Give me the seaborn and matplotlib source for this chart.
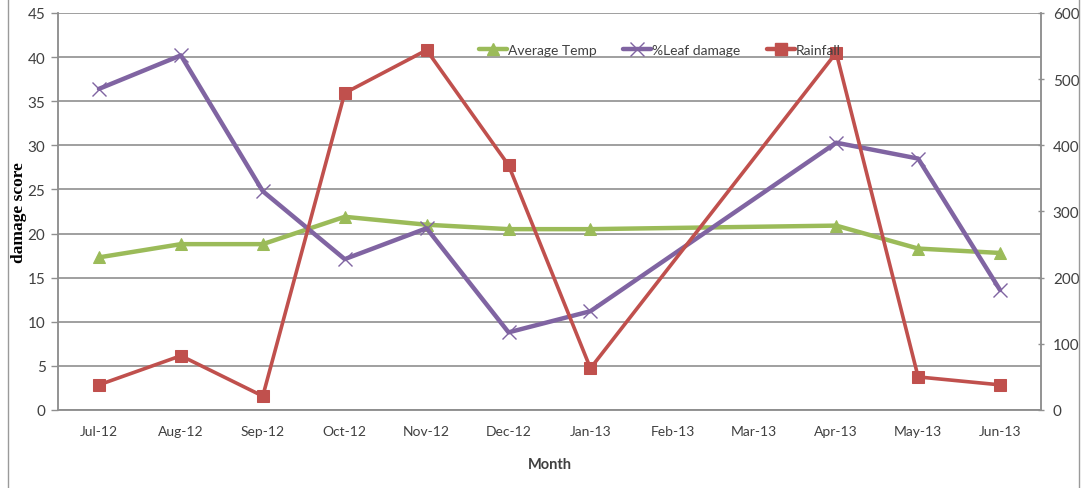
import numpy as np
import pandas as pd
import seaborn as sns
import matplotlib
matplotlib.use("Agg")
import matplotlib.pyplot as plt
from matplotlib.lines import Line2D

months = ["Jul-12", "Aug-12", "Sep-12", "Oct-12", "Nov-12", "Dec-12",
          "Jan-13", "Feb-13", "Mar-13", "Apr-13", "May-13", "Jun-13"]
avg_temp = [17.3, 18.8, 18.8, 21.9, 21.0, 20.5, 20.5, np.nan, np.nan, 20.9, 18.3, 17.8]
leaf_damage = [36.4, 40.2, 24.8, 17.1, 20.6, 8.8, 11.2, np.nan, np.nan, 30.3, 28.5, 13.6]
rainfall = [38, 82, 21, 479, 544, 370, 63, np.nan, np.nan, 540, 50, 38]

left_ticks = list(range(0, 46, 5))
right_ticks = list(range(0, 601, 100))

sns.set_theme(style="white")
plt.rcParams["font.family"] = ["Lato", "DejaVu Sans"]

df = pd.DataFrame({"pos": np.arange(len(months)), "month": months,
                   "Average Temp": avg_temp, "%Leaf damage": leaf_damage,
                   "Rainfall": rainfall})

GREEN = "#9BBB59"
PURPLE = "#8064A2"
RED = "#C0504D"
GRID = "#8f8f8f"
TXT = "#404040"

fig = plt.figure(figsize=(10.86, 4.89), dpi=100)
ax = fig.add_axes([58 / 1086, 1 - 411 / 489, (1041 - 58) / 1086, (411 - 14) / 489])
ax2 = ax.twinx()

# Missing months are skipped so the line joins the neighbouring points
t = df.dropna(subset=["Average Temp"])
sns.lineplot(data=t, x="pos", y="Average Temp", ax=ax, color=GREEN, lw=3.2,
             marker="^", markersize=9, markeredgecolor=GREEN, label="Average Temp",
             legend=False, zorder=3)
l = df.dropna(subset=["%Leaf damage"])
sns.lineplot(data=l, x="pos", y="%Leaf damage", ax=ax, color=PURPLE, lw=3.2,
             marker="x", markersize=10, markeredgewidth=1.0, markeredgecolor=PURPLE,
             label="%Leaf damage", legend=False, zorder=4)
r = df.dropna(subset=["Rainfall"])
sns.lineplot(data=r, x="pos", y="Rainfall", ax=ax2, color=RED, lw=2.6,
             marker="s", markersize=8.5, markeredgecolor=RED, label="Rainfall",
             legend=False, zorder=5)

ax.set_xlim(-0.5, len(months) - 0.5)
ax.set_ylim(0, 45)
ax.set_yticks(left_ticks)
ax.set_xticks(np.arange(len(months)))
ax.set_xticklabels(months)
ax.set_xticks(np.arange(-0.5, len(months), 1.0), minor=True)
ax.tick_params(axis="x", which="major", length=0, pad=11, labelsize=10, labelcolor=TXT)
ax.tick_params(axis="x", which="minor", length=5, width=1, color=GRID, direction="out")
ax.tick_params(axis="y", length=5, width=1, color=GRID, direction="out", labelsize=11,
               labelcolor=TXT, pad=4)
ax.yaxis.grid(True, color=GRID, lw=1.2)
ax.xaxis.grid(False)
ax.set_axisbelow(True)

ax2.set_ylim(0, 600)
ax2.set_yticks(right_ticks)
ax2.tick_params(axis="y", length=5, width=1, color=GRID, direction="inout", labelsize=11,
                labelcolor=TXT, pad=6)
ax2.grid(False)
ax2.set_ylabel("")

for a in (ax, ax2):
    a.spines["top"].set_visible(False)
    for side in ("left", "right", "bottom"):
        a.spines[side].set_color(GRID)
        a.spines[side].set_linewidth(1.1)

ax.set_xlabel("Month", fontsize=10.5, fontweight="bold", color=TXT)
ax.xaxis.set_label_coords(0.5, -(458 - 411) / 397)
ax.set_ylabel("damage score", fontsize=12.5, fontweight="bold", color="black",
              family=["Liberation Serif", "DejaVu Serif"])
ax.yaxis.set_label_coords(-(58 - 27) / 983, 0.5)

handles = [
    Line2D([], [], color=GREEN, lw=3.2, marker="^", markersize=9, markeredgecolor=GREEN),
    Line2D([], [], color=PURPLE, lw=3.2, marker="x", markersize=10, markeredgewidth=1.0),
    Line2D([], [], color=RED, lw=3.2, marker="s", markersize=8.5, markeredgecolor=RED),
]
fig.legend(handles, ["Average Temp", "%Leaf damage", "Rainfall"], loc="center",
           bbox_to_anchor=(660 / 1086, 1 - 51 / 489), ncol=3, frameon=False,
           fontsize=10, handlelength=2.0, handletextpad=0.1, columnspacing=1.9,
           labelcolor=TXT)

# Outer chart frame edges
fig.add_artist(Line2D([8 / 1086, 8 / 1086], [0, 1], color="#9a9a9a", lw=1,
                      transform=fig.transFigure))
fig.add_artist(Line2D([1079 / 1086, 1079 / 1086], [0, 1], color="#9a9a9a", lw=1,
                      transform=fig.transFigure))

fig.savefig("out.png", dpi=100, facecolor="white")
